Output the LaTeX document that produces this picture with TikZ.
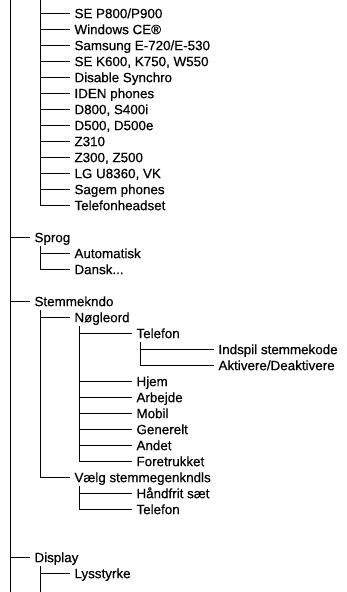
\documentclass[tikz,border=0pt]{standalone}
\usepackage{fontspec}
\setmainfont[BoldFont={Liberation Sans},BoldFeatures={FakeBold=0.5}]{Liberation Sans}
\begin{document}
\begin{tikzpicture}[x=1pt,y=-1pt,line width=1pt,
  item/.style={anchor=west,inner xsep=4pt,inner ysep=0pt,text height=9.3pt,text depth=0pt,font=\fontsize{13.4}{15}\selectfont\bfseries},
  conn/.style={draw=black,line width=1pt}]
\useasboundingbox (0,0) rectangle (346,592);
% trunk
\coordinate (trunkTop) at (10,0);
\coordinate (trunkBot) at (10,592);
\draw[conn] (trunkTop) -- (trunkBot);
% first list
\coordinate (vA) at (40,0);
\foreach \t [count=\i from 0] in {SE P800/P900,Windows CE®,Samsung E-720/E-530,{SE K600, K750, W550},Disable Synchro,IDEN phones,{D800, S400i},{D500, D500e},Z310,{Z300, Z500},{LG U8360, VK},Sagem phones,Telefonheadset}
  \node[item] (a\i) at (70,{13.5+16*\i}) {\t};
\draw[conn] (vA) -- (vA |- a12.west);
\foreach \i in {0,...,12} \draw[conn] (vA |- a\i.west) -- (a\i.west);
% Sprog
\node[item] (sprog) at (30,237.5) {Sprog};
\draw[conn] (trunkTop |- sprog.west) -- (sprog.west);
\node[item] (auto) at (70,253.5) {Automatisk};
\node[item] (dansk) at (70,269.5) {Dansk...};
\coordinate (vB) at (40,246);
\draw[conn] (vB) -- (vB |- dansk.west);
\draw[conn] (vB |- auto.west) -- (auto.west);
\draw[conn] (vB |- dansk.west) -- (dansk.west);
% Stemmekndo
\node[item] (stem) at (30,301.5) {Stemmekndo};
\draw[conn] (trunkTop |- stem.west) -- (stem.west);
\node[item] (noegle) at (70,317.5) {Nøgleord};
\node[item] (vaelg) at (70,477.5) {Vælg stemmegenkndls};
\coordinate (vC) at (40,310);
\draw[conn] (vC) -- (vC |- vaelg.west);
\draw[conn] (vC |- noegle.west) -- (noegle.west);
\draw[conn] (vC |- vaelg.west) -- (vaelg.west);
% Noegleord children
\node[item] (tlf) at (132,333.5) {Telefon};
\foreach \t [count=\i from 0] in {Hjem,Arbejde,Mobil,Generelt,Andet,Foretrukket}
  \node[item] (n\i) at (132,{381.5+16*\i}) {\t};
\coordinate (vD) at (79,326);
\draw[conn] (vD) -- (vD |- n5.west);
\draw[conn] (vD |- tlf.west) -- (tlf.west);
\foreach \i in {0,...,5} \draw[conn] (vD |- n\i.west) -- (n\i.west);
% Telefon children
\node[item] (indspil) at (214,349.5) {Indspil stemmekode};
\node[item] (aktiv) at (214,365.5) {Aktivere/Deaktivere};
\coordinate (vE) at (140,342);
\draw[conn] (vE) -- (vE |- aktiv.west);
\draw[conn] (vE |- indspil.west) -- (indspil.west);
\draw[conn] (vE |- aktiv.west) -- (aktiv.west);
% Vaelg children
\node[item] (haand) at (132,493.5) {Håndfrit sæt};
\node[item] (tlf2) at (132,509.5) {Telefon};
\coordinate (vF) at (79,486);
\draw[conn] (vF) -- (vF |- tlf2.west);
\draw[conn] (vF |- haand.west) -- (haand.west);
\draw[conn] (vF |- tlf2.west) -- (tlf2.west);
% Display
\node[item] (disp) at (30,557.5) {Display};
\draw[conn] (trunkTop |- disp.west) -- (disp.west);
\node[item] (lys) at (70,573.5) {Lysstyrke};
\coordinate (vG) at (40,566);
\coordinate (vGbot) at (40,592);
\draw[conn] (vG) -- (vGbot);
\draw[conn] (vG |- lys.west) -- (lys.west);
\end{tikzpicture}
\end{document}
